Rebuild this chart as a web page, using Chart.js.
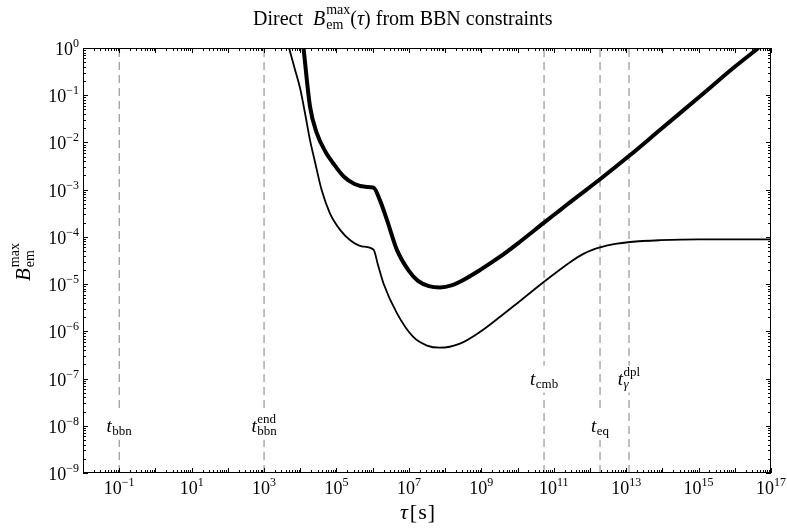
<!DOCTYPE html>
<html>
<head>
<meta charset="utf-8">
<script src="https://cdn.jsdelivr.net/npm/chart.js@4.4.0/dist/chart.umd.min.js"></script>
<style>
    html, body { margin: 0; padding: 0; background: #fff; }
    canvas { display: block; }
</style>
</head>
<body>
<canvas id="chart" width="787" height="532"></canvas>
<script>
// Thick curve: tau [s] and B_em^max
const tauThick = [1.23e4, 1.86e4, 2.88e4, 5.0e4, 8.1e4, 1.58e5, 3.16e5, 6.3e5, 1.05e6, 1.58e6,
    2.5e6, 4.7e6, 1.0e7, 1.78e7, 3.55e7, 7.2e7, 1.58e8, 2.57e8, 9.3e8, 3.3e9,
    1.17e10, 5.4e10, 1.5e11, 3.16e11, 1.9e12, 1.29e13, 8.7e13, 1.1e15, 1.0e16, 4.5e16];
const bThick = [1.0, 5.75e-2, 1.55e-2, 6.3e-3, 3.63e-3, 1.9e-3, 1.32e-3, 1.15e-3, 1.1e-3, 6.0e-4,
    2.24e-4, 5.25e-5, 1.9e-5, 1.17e-5, 9.1e-6, 8.5e-6, 9.5e-6, 1.12e-5, 2.0e-5, 3.8e-5,
    7.9e-5, 2.0e-4, 3.7e-4, 5.8e-4, 1.66e-3, 5.4e-3, 1.86e-2, 9.5e-2, 0.40, 1.0];

// Thin curve
const tauThin = [4.9e3, 7.1e3, 1.0e4, 1.35e4, 1.86e4, 2.63e4, 3.9e4, 6.6e4, 1.26e5, 2.4e5,
    5.0e5, 1.05e6, 1.41e6, 2.0e6, 4.7e6, 1.32e7, 3.16e7, 7.2e7, 2.57e8, 9.3e8,
    3.3e9, 1.17e10, 5.4e10, 1.5e11, 2.9e11, 6.6e11, 1.12e12, 1.9e12, 5.0e12, 1.29e13,
    8.7e13, 1.0e15, 1.0e17];
const bThin = [1.0, 0.355, 0.135, 4.2e-2, 1.12e-2, 3.5e-3, 9.8e-4, 3.16e-4, 1.41e-4, 8.5e-5,
    6.3e-5, 5.4e-5, 2.5e-5, 1.02e-5, 2.4e-6, 7.6e-7, 5.0e-7, 4.5e-7, 5.5e-7, 9.8e-7,
    2.04e-6, 4.4e-6, 1.12e-5, 2.04e-5, 2.95e-5, 4.37e-5, 5.25e-5, 6.0e-5, 7.1e-5, 7.8e-5,
    8.5e-5, 8.9e-5, 8.9e-5];

// Characteristic times (vertical dashed lines) and where their labels sit
const markTau = [1e-1, 1e3, 5.4e10, 1.9e12, 1.2e13];
const markSub = ['bbn', 'bbn', 'cmb', 'eq', '\u03b3'];
const markSup = ['', 'end', '', '', 'dpl'];
const markLabelY = [1e-8, 1e-8, 1e-7, 1e-8, 1e-7];

// Tick labels (exponents of 10)
const xTickExp = [-1, 1, 3, 5, 7, 9, 11, 13, 15, 17];
const yTickExp = [0, -1, -2, -3, -4, -5, -6, -7, -8, -9];

const SERIF = '"Liberation Serif", "Times New Roman", serif';
function font(size, italic) {
    return (italic ? 'italic ' : '') + size + 'px ' + SERIF;
}
function expText(n) {
    return n < 0 ? '\u2212' + (-n) : String(n);
}

function partWidth(ctx, p) {
    if (p.stack) return Math.max(...p.stack.map(q => partWidth(ctx, q)));
    ctx.font = p.f;
    return ctx.measureText(p.t).width + (p.pad || 0);
}

function drawParts(ctx, parts, x, y, align) {
    const w = parts.reduce((s, p) => s + partWidth(ctx, p), 0);
    let cx = align === 'center' ? x - w / 2 : (align === 'right' ? x - w : x);
    ctx.textAlign = 'left';
    ctx.textBaseline = 'alphabetic';
    parts.forEach(p => {
        const pw = partWidth(ctx, p);
        (p.stack || [p]).forEach(q => {
            ctx.font = q.f;
            ctx.fillText(q.t, cx, y + (q.dy || 0));
        });
        cx += pw;
    });
    return w;
}

function powerParts(n) {
    return [
        { t: '10', f: font(18) },
        { t: expText(n), f: font(12), dy: -8 }
    ];
}

// Frame, inward ticks, tick labels, titles, line labels
const decorations = {
    id: 'decorations',
    afterDatasetsDraw(chart) {
        const ctx = chart.ctx;
        const xs = chart.scales.x, ys = chart.scales.y;
        ctx.save();
        ctx.fillStyle = '#000';
        markTau.forEach((t, i) => {
            const px = xs.getPixelForValue(t);
            const py = ys.getPixelForValue(markLabelY[i]);
            const parts = [{ t: 't', f: font(19, true), pad: 0.5 }];
            if (markSup[i]) {
                parts.push({ stack: [
                    { t: markSup[i], f: font(13), dy: -9 },
                    { t: markSub[i], f: font(13, markSub[i] === '\u03b3'), dy: 3 }
                ] });
            } else {
                parts.push({ t: markSub[i], f: font(13), dy: 3 });
            }
            const w = parts.reduce((s, p) => s + partWidth(ctx, p), 0);
            ctx.fillStyle = '#fff';
            ctx.fillRect(px - w / 2 - 1, py - 13, w + 2, 27);
            ctx.fillStyle = '#000';
            drawParts(ctx, parts, px, py + 6, 'center');
        });
        ctx.restore();
    },
    afterDraw(chart) {
        const ctx = chart.ctx;
        const a = chart.chartArea;
        const xs = chart.scales.x, ys = chart.scales.y;
        ctx.save();
        ctx.strokeStyle = '#000';
        ctx.fillStyle = '#000';
        ctx.lineWidth = 1;
        ctx.strokeRect(Math.round(a.left) + 0.5, Math.round(a.top) + 0.5,
            Math.round(a.right - a.left) - 1, Math.round(a.bottom - a.top) - 1);

        ctx.beginPath();
        for (let n = -2; n <= 17; n++) {
            for (let m = 1; m <= 9; m++) {
                const v = m * Math.pow(10, n);
                if (v > 1e17 * 1.0001) continue;
                const px = Math.round(xs.getPixelForValue(v)) + 0.5;
                const len = m === 1 ? 5 : 3;
                ctx.moveTo(px, a.bottom);
                ctx.lineTo(px, a.bottom - len);
                ctx.moveTo(px, a.top);
                ctx.lineTo(px, a.top + len);
            }
        }
        for (let n = -9; n <= 0; n++) {
            for (let m = 1; m <= 9; m++) {
                const v = m * Math.pow(10, n);
                if (v > 1.0001) continue;
                const py = Math.round(ys.getPixelForValue(v)) + 0.5;
                const len = m === 1 ? 5 : 3;
                ctx.moveTo(a.left, py);
                ctx.lineTo(a.left + len, py);
                ctx.moveTo(a.right, py);
                ctx.lineTo(a.right - len, py);
            }
        }
        ctx.stroke();

        xTickExp.forEach(n => {
            const px = xs.getPixelForValue(Math.pow(10, n));
            drawParts(ctx, powerParts(n), px, a.bottom + 21, 'center');
        });
        yTickExp.forEach(n => {
            const py = ys.getPixelForValue(Math.pow(10, n));
            drawParts(ctx, powerParts(n), a.left - 4, py + 7, 'right');
        });

        // plot title
        drawParts(ctx, [
            { t: 'Direct  ', f: font(20) },
            { t: 'B', f: font(20, true), pad: 1 },
            { stack: [{ t: 'max', f: font(14), dy: -11 }, { t: 'em', f: font(14), dy: 4 }] },
            { t: '(', f: font(20) },
            { t: '\u03c4', f: font(20, true) },
            { t: ') from BBN constraints', f: font(20) }
        ], 253, 25, 'left');

        // x axis title
        drawParts(ctx, [
            { t: '\u03c4', f: font(22, true), pad: 2 },
            { t: '[', f: font(22), pad: 1 },
            { t: 's', f: font(22), pad: 1 },
            { t: ']', f: font(22) }
        ], 400, 519, 'left');

        // y axis title (rotated)
        ctx.translate(30, 262);
        ctx.rotate(-Math.PI / 2);
        drawParts(ctx, [
            { t: 'B', f: font(21, true), pad: 1 },
            { stack: [{ t: 'max', f: font(14), dy: -11 }, { t: 'em', f: font(14), dy: 4 }] }
        ], 0, 0, 'center');
        ctx.restore();
    }
};

const lineSets = markTau.map(t => ({
    data: [{ x: t, y: 1e-9 }, { x: t, y: 1 }],
    borderColor: '#808080',
    borderWidth: 1,
    borderDash: [8, 5],
    pointRadius: 0,
    fill: false
}));

new Chart(document.getElementById('chart'), {
    type: 'line',
    data: {
        datasets: [
            {
                data: tauThick.map((t, i) => ({ x: t, y: bThick[i] })),
                borderColor: '#000',
                borderWidth: 4,
                pointRadius: 0,
                cubicInterpolationMode: 'monotone',
                fill: false
            },
            {
                data: tauThin.map((t, i) => ({ x: t, y: bThin[i] })),
                borderColor: '#000',
                borderWidth: 1.8,
                pointRadius: 0,
                cubicInterpolationMode: 'monotone',
                fill: false
            },
            ...lineSets
        ]
    },
    options: {
        responsive: false,
        animation: false,
        layout: { padding: { left: 83, right: 16, top: 48, bottom: 59 } },
        scales: {
            x: { type: 'logarithmic', min: 1e-2, max: 1e17, display: false },
            y: { type: 'logarithmic', min: 1e-9, max: 1, display: false }
        },
        plugins: {
            legend: { display: false },
            tooltip: { enabled: false }
        }
    },
    plugins: [decorations]
});
</script>
</body>
</html>
